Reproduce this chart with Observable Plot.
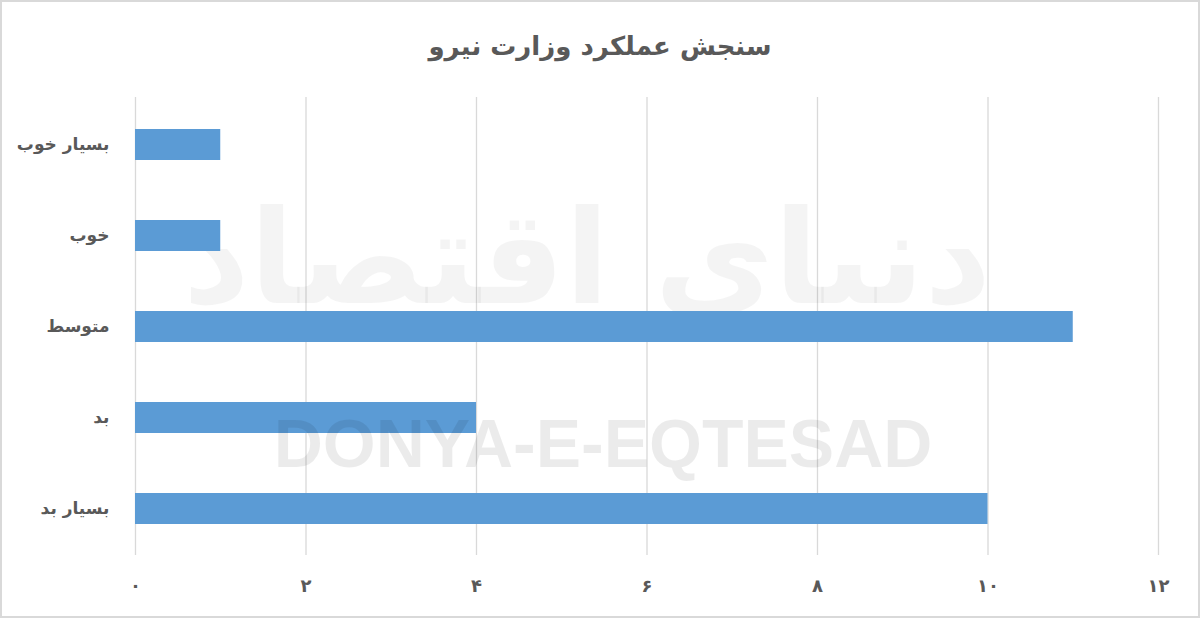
<!DOCTYPE html>
<html><head><meta charset="utf-8">
<script src="https://cdn.jsdelivr.net/npm/d3@7"></script>
<script src="https://cdn.jsdelivr.net/npm/@observablehq/plot@0.6"></script>
<style>
html,body{margin:0;padding:0;background:#fff;}
#wrap{position:relative;width:1196px;height:614px;border:2px solid #d9d9d9;background:#fff;overflow:hidden;}
#title{height:78px;line-height:88px;text-align:center;font-family:"DejaVu Sans",sans-serif;font-weight:bold;font-size:26px;color:#595959;direction:rtl;}
</style></head>
<body><div id="wrap"><div id="title"></div><div id="chart"></div></div>
<script>
const titleText = "سنجش عملکرد وزارت نیرو";
const categories = ["بسیار خوب", "خوب", "متوسط", "بد", "بسیار بد"];
const values = [1, 1, 11, 4, 10];
const xTicks = [0, 2, 4, 6, 8, 10, 12];
const watermarkLatin = "DONYA-E-EQTESAD";
const watermarkFa = "دنیای اقتصاد";

document.getElementById("title").textContent = titleText;
const fa = d => String(d).replace(/\d/g, c => "۰۱۲۳۴۵۶۷۸۹"[c]);
const data = categories.map((c, i) => ({category: c, value: values[i]}));

const chart = Plot.plot({
  width: 1196, height: 536,
  marginLeft: 133, marginRight: 40, marginTop: 17, marginBottom: 61,
  style: {fontFamily: "DejaVu Sans, sans-serif", color: "#595959", background: "transparent", overflow: "visible"},
  x: {domain: [0, 12], ticks: xTicks, tickFormat: fa, label: null},
  y: {domain: categories, paddingInner: 0.66, paddingOuter: 0.33, label: null},
  marks: [
    Plot.ruleX(xTicks, {stroke: "#d9d9d9", strokeWidth: 1.3}),
    Plot.text([watermarkFa], {frameAnchor: "middle", dx: -60, dy: -65, text: d => d, fontSize: 130, fontWeight: "bold", fill: "#000", fillOpacity: 0.045, fontFamily: "DejaVu Sans, sans-serif"}),
    Plot.barX(data, {x: "value", y: "category", fill: "#5b9bd5"}),
    Plot.text([watermarkLatin], {frameAnchor: "middle", dx: -44, dy: 119, text: d => d, fontSize: 68, fontWeight: "bold", fill: "#000", fillOpacity: 0.08, fontFamily: "Liberation Sans, Arial, sans-serif"}),
    Plot.axisX({ticks: xTicks, tickFormat: fa, tickSize: 0, tickPadding: 24, fontSize: 18, fontWeight: "bold", label: null}),
    Plot.axisY({tickSize: 0, tickPadding: 26, fontSize: 17, fontWeight: "bold", label: null})
  ]
});
document.getElementById("chart").appendChild(chart);
</script></body></html>
